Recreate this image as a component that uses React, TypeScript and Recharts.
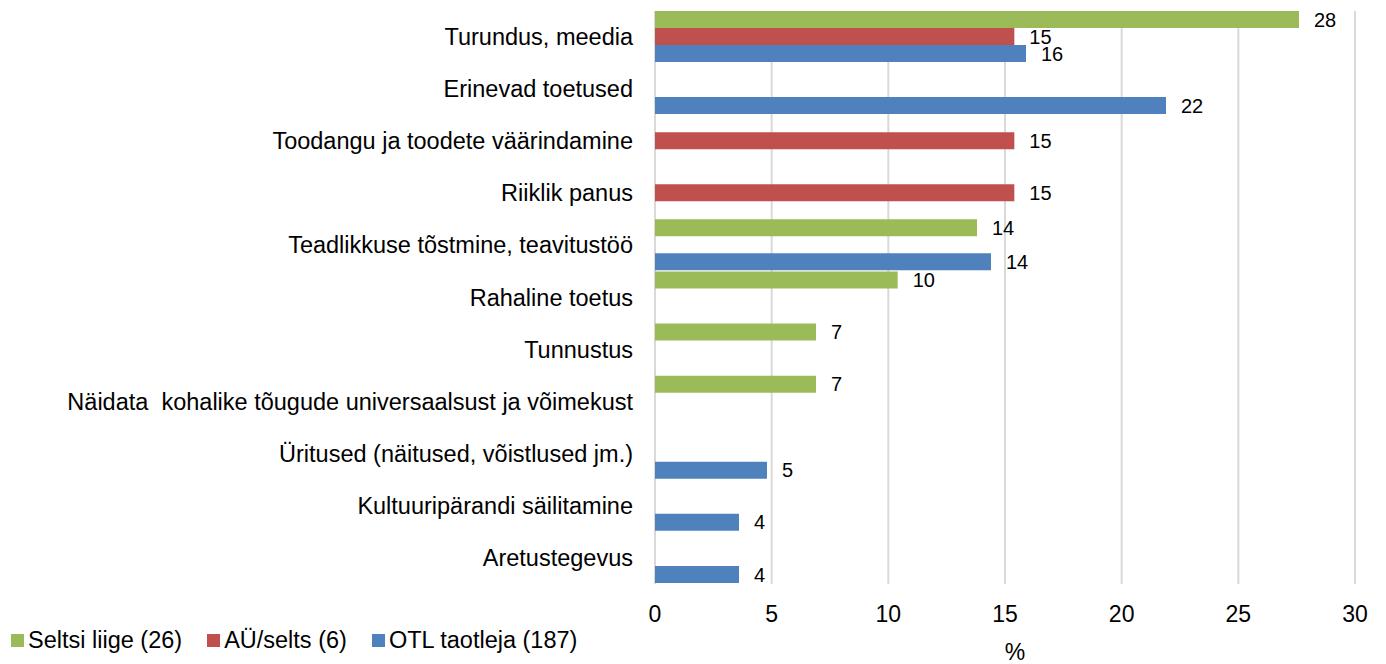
import { BarChart, Bar, XAxis, YAxis, CartesianGrid, LabelList, Label } from "recharts"

const categories = [
  "Turundus, meedia",
  "Erinevad toetused",
  "Toodangu ja toodete väärindamine",
  "Riiklik panus",
  "Teadlikkuse tõstmine, teavitustöö",
  "Rahaline toetus",
  "Tunnustus",
  "Näidata  kohalike tõugude universaalsust ja võimekust",
  "Üritused (näitused, võistlused jm.)",
  "Kultuuripärandi säilitamine",
  "Aretustegevus",
]

const seltsiLiige = [27.6, null, null, null, 13.8, 10.4, 6.9, 6.9, null, null, null]
const auSelts = [15.4, null, 15.4, 15.4, null, null, null, null, null, null, null]
const otlTaotleja = [15.9, 21.9, null, null, 14.4, null, null, null, 4.8, 3.6, 3.6]

const xTicks = [0, 5, 10, 15, 20, 25, 30]

const series = [
  { key: "seltsi", name: "Seltsi liige (26)", color: "#9BBB59" },
  { key: "au", name: "AÜ/selts (6)", color: "#C0504D" },
  { key: "otl", name: "OTL taotleja (187)", color: "#4F81BD" },
]

const data = categories.map((name, i) => ({
  name,
  seltsi: seltsiLiige[i],
  au: auSelts[i],
  otl: otlTaotleja[i],
}))

const font = "'Liberation Sans', Arial, sans-serif"

const fmt = (v: any) => (v == null ? "" : Math.round(Number(v)))

// category tick that keeps double spaces
const CatTick = (props: any) => {
  const { x, y, payload } = props
  return (
    <text
      x={x}
      y={y}
      textAnchor="end"
      dominantBaseline="central"
      xmlSpace="preserve"
      style={{ whiteSpace: "pre", fontSize: 23.5, fill: "#000", fontFamily: font }}
    >
      {payload.value}
    </text>
  )
}

export default function App() {
  return (
    <div style={{ position: "absolute", left: 0, top: 0, width: 1386, height: 664, background: "#fff", fontFamily: font }}>
      <BarChart
        width={1386}
        height={664}
        data={data}
        layout="vertical"
        margin={{ top: 11, right: 31, bottom: 0, left: 0 }}
        barCategoryGap={0}
        barGap={0}
      >
        <CartesianGrid horizontal={false} stroke="#d9d9d9" strokeWidth={2} />
        <XAxis
          type="number"
          domain={[0, 30]}
          ticks={xTicks}
          axisLine={false}
          tickLine={false}
          tickSize={0}
          tickMargin={22}
          height={80}
          tick={{ fontSize: 23, fill: "#000", fontFamily: font }}
        >
          <Label value="%" position="insideBottom" offset={4} dx={10} style={{ fontSize: 23, fill: "#000", fontFamily: font }} />
        </XAxis>
        <YAxis
          type="category"
          dataKey="name"
          width={655}
          axisLine={false}
          tickLine={false}
          tickSize={0}
          tickMargin={22}
          interval={0}
          tick={<CatTick />}
        />
        {series.map((s) => (
          <Bar key={s.key} dataKey={s.key} name={s.name} fill={s.color} isAnimationActive={false}>
            <LabelList
              dataKey={s.key}
              position="right"
              offset={15}
              formatter={fmt}
              style={{ fontSize: 20, fill: "#000", fontFamily: font }}
            />
          </Bar>
        ))}
      </BarChart>
      <div style={{ position: "absolute", left: 11, top: 627, display: "flex", alignItems: "center", fontSize: 23.5, color: "#000", whiteSpace: "nowrap" }}>
        {series.map((s) => (
          <div key={s.key} style={{ display: "flex", alignItems: "center", marginRight: 25 }}>
            <span style={{ display: "inline-block", width: 13, height: 13, background: s.color, marginRight: 4 }} />
            <span>{s.name}</span>
          </div>
        ))}
      </div>
    </div>
  )
}
